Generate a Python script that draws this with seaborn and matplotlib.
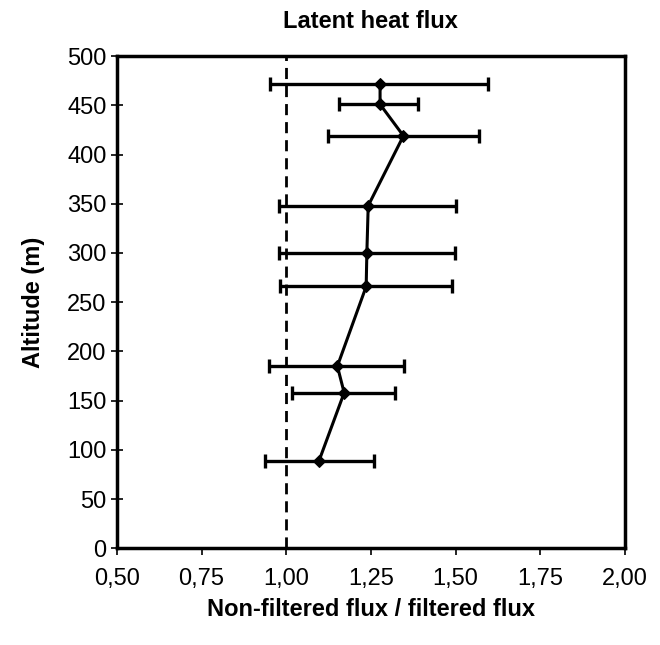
import matplotlib
matplotlib.use("Agg")
import matplotlib.pyplot as plt
import seaborn as sns
import pandas as pd

altitude = [89, 158, 185, 266, 300, 348, 419, 451, 472]
ratio = [1.097, 1.171, 1.151, 1.236, 1.238, 1.242, 1.346, 1.277, 1.277]
err_low = [0.937, 1.017, 0.950, 0.981, 0.978, 0.979, 1.124, 1.157, 0.951]
err_high = [1.259, 1.321, 1.349, 1.488, 1.497, 1.502, 1.568, 1.390, 1.595]

x_ticks = [0.50, 0.75, 1.00, 1.25, 1.50, 1.75, 2.00]
x_tick_labels = ["0,50", "0,75", "1,00", "1,25", "1,50", "1,75", "2,00"]
y_ticks = [0, 50, 100, 150, 200, 250, 300, 350, 400, 450, 500]

df = pd.DataFrame({"alt": altitude, "ratio": ratio, "lo": err_low, "hi": err_high})

sns.set_theme(style="white")
plt.rcParams["font.family"] = ["Liberation Sans", "DejaVu Sans"]
plt.rcParams["text.color"] = "black"
plt.rcParams["axes.labelcolor"] = "black"

fig = plt.figure(figsize=(6.6, 6.45), dpi=100)
ax = fig.add_axes([0.177, 0.150, 0.770, 0.763])

ax.errorbar(df["ratio"], df["alt"],
            xerr=[df["ratio"] - df["lo"], df["hi"] - df["ratio"]],
            fmt="none", ecolor="black", elinewidth=2.4, capsize=5, capthick=2.4)
sns.lineplot(data=df, x="ratio", y="alt", sort=False, estimator=None,
             color="black", linewidth=2.2, marker="D", markersize=6,
             markeredgecolor="black", ax=ax)
ax.axvline(1.0, color="black", linestyle=(0, (4, 2.5)), linewidth=2.0)

ax.set_xlim(0.5, 2.0)
ax.set_ylim(0, 500)
ax.set_xticks(x_ticks)
ax.set_xticklabels(x_tick_labels)
ax.set_yticks(y_ticks)

for s in ax.spines.values():
    s.set_visible(True)
    s.set_color("black")
    s.set_linewidth(2.5)

ax.tick_params(axis="y", direction="inout", length=9, width=1.2, colors="black",
               labelcolor="black", labelsize=17, left=True, pad=3)
ax.tick_params(axis="x", direction="out", length=5, width=1.2, colors="black",
               labelcolor="black", labelsize=17, bottom=True, pad=9)

ax.set_title("Latent heat flux", fontsize=17, fontweight="bold", pad=20, color="black")
ax.set_xlabel("Non-filtered flux / filtered flux", fontsize=17, fontweight="bold", labelpad=6)
ax.set_ylabel("Altitude (m)", fontsize=17, fontweight="bold", labelpad=16)

fig.savefig("out.png", dpi=100)
